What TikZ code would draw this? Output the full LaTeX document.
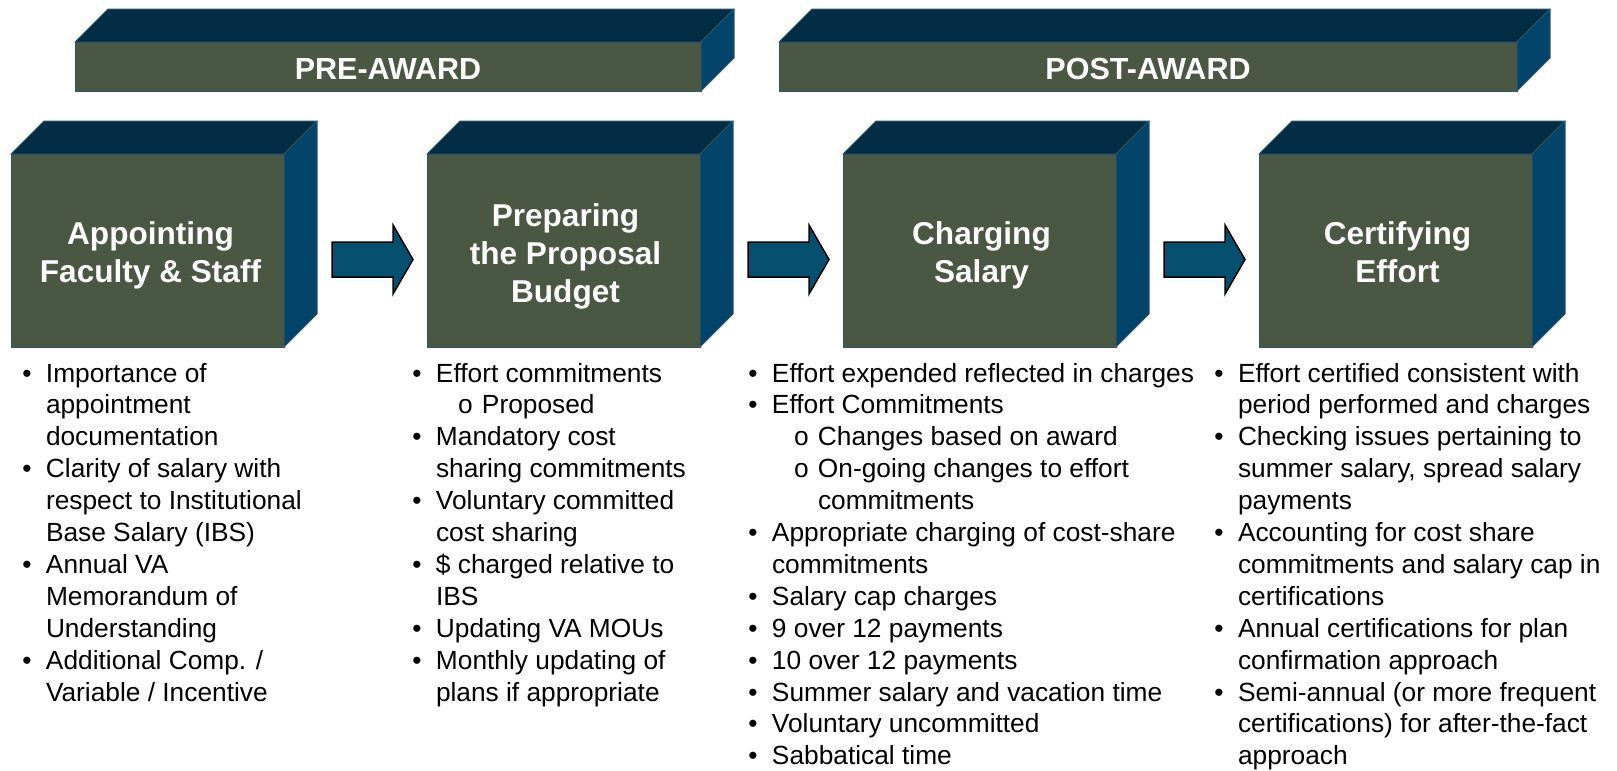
\documentclass[tikz,border=0pt]{standalone}
\usepackage{fontspec}
\setmainfont{Liberation Sans}
\definecolor{frontc}{HTML}{4A5742}
\definecolor{topc}{HTML}{032D44}
\definecolor{sidec}{HTML}{03456A}
\definecolor{edgec}{HTML}{2F5566}
\definecolor{arrowc}{HTML}{05506F}
\newcommand\colbullet{\llap{\textbullet\hspace{14.5pt}}}
\newcommand\subo{\hspace*{22pt}\makebox[24pt][l]{o}}
\newcommand\subc{\hspace*{46pt}}
\newcommand\cubefaces[2]{%
  \filldraw[topface] (#1.north west) -- ++(#2,-#2) -- ([shift={(#2,-#2)}]#1.north east) -- (#1.north east) -- cycle;
  \filldraw[sideface] (#1.north east) -- ++(#2,-#2) -- ([shift={(#2,-#2)}]#1.south east) -- (#1.south east) -- cycle;}
\begin{document}
\begin{tikzpicture}[x=1pt,y=-1pt,
  frontface/.style={fill=frontc,draw=edgec,line width=1pt,inner sep=0pt,outer sep=0pt},
  topface/.style={fill=topc,draw=edgec,line width=1pt,line join=round},
  sideface/.style={fill=sidec,draw=edgec,line width=1pt,line join=round},
  boxtitle/.style={anchor=base,inner sep=0pt,outer sep=0pt,text=white,align=center,font=\bfseries\fontsize{31.6}{38}\selectfont},
  bannertitle/.style={anchor=base,inner sep=0pt,outer sep=0pt,text=white,font=\bfseries\fontsize{30.5}{36}\selectfont},
  bullets/.style={anchor=base west,inner sep=0pt,outer sep=0pt,align=left,text=black,font=\fontsize{26.3}{31.9}\selectfont},
  blockarrow/.style={fill=arrowc,draw=black,line width=1.5pt,line join=miter}]
\useasboundingbox (0,0) rectangle (1617,771);

% banners
\node[frontface,minimum width=626,minimum height=49] (pre) at (388,66.5) {};
\node[frontface,minimum width=738,minimum height=49] (post) at (1148,66.5) {};
\cubefaces{pre}{33}
\cubefaces{post}{33}
\node[bannertitle] (pret) at ([shift={(0,12.5)}]pre.center) {PRE-AWARD};
\node[bannertitle] (postt) at ([shift={(0,12.5)}]post.center) {POST-AWARD};

% boxes
\node[frontface,minimum width=273,minimum height=193] (b1) at (147.5,250.5) {};
\node[frontface,minimum width=273,minimum height=193] (b2) at (563.5,250.5) {};
\node[frontface,minimum width=273,minimum height=193] (b3) at (979.5,250.5) {};
\node[frontface,minimum width=273,minimum height=193] (b4) at (1395.5,250.5) {};
\cubefaces{b1}{33}
\cubefaces{b2}{33}
\cubefaces{b3}{33}
\cubefaces{b4}{33}
\node[boxtitle] (b1t) at ([shift={(3,31.5)}]b1.center) {Appointing\\Faculty \& Staff};
\node[boxtitle] (b2t) at ([shift={(2,51.5)}]b2.center) {Preparing\\the Proposal\\Budget};
\node[boxtitle] (b3t) at ([shift={(2,31.5)}]b3.center) {Charging\\Salary};
\node[boxtitle] (b4t) at ([shift={(2,31.5)}]b4.center) {Certifying\\Effort};

% block arrows between boxes
\foreach \s/\t in {b1/b2,b2/b3,b3/b4}{
  \coordinate (a\s) at ([shift={(48,9)}]\s.east);
  \draw[blockarrow] ([shift={(0,-17.5)}]a\s) -- ++(61,0) -- ++(0,-17) -- ++(20,34.5) -- ++(-20,34.5) -- ++(0,-17) -- ++(-61,0) -- cycle;
}

% bullet lists (anchored at the baseline of their last line)
\node[bullets] (l1) at (46,701) {%
\colbullet Importance of\\
appointment\\
documentation\\
\colbullet Clarity of salary with\\
respect to Institutional\\
Base Salary (IBS)\\
\colbullet Annual VA\\
Memorandum of\\
Understanding\\
\colbullet Additional Comp. /\\
Variable / Incentive};

\node[bullets] (l2) at (436,701) {%
\colbullet Effort commitments\\
\subo Proposed\\
\colbullet Mandatory cost\\
sharing commitments\\
\colbullet Voluntary committed\\
cost sharing\\
\colbullet \$ charged relative to\\
IBS\\
\colbullet Updating VA MOUs\\
\colbullet Monthly updating of\\
plans if appropriate};

\node[bullets] (l3) at (772,764.8) {%
\colbullet Effort expended reflected in charges\\
\colbullet Effort Commitments\\
\subo Changes based on award\\
\subo On-going changes to effort\\
\subc commitments\\
\colbullet Appropriate charging of cost-share\\
commitments\\
\colbullet Salary cap charges\\
\colbullet 9 over 12 payments\\
\colbullet 10 over 12 payments\\
\colbullet Summer salary and vacation time\\
\colbullet Voluntary uncommitted\\
\colbullet Sabbatical time};

\node[bullets] (l4) at (1238,764.8) {%
\colbullet Effort certified consistent with\\
period performed and charges\\
\colbullet Checking issues pertaining to\\
summer salary, spread salary\\
payments\\
\colbullet Accounting for cost share\\
commitments and salary cap in\\
certifications\\
\colbullet Annual certifications for plan\\
confirmation approach\\
\colbullet Semi-annual (or more frequent\\
certifications) for after-the-fact\\
approach};
\end{tikzpicture}
\end{document}
